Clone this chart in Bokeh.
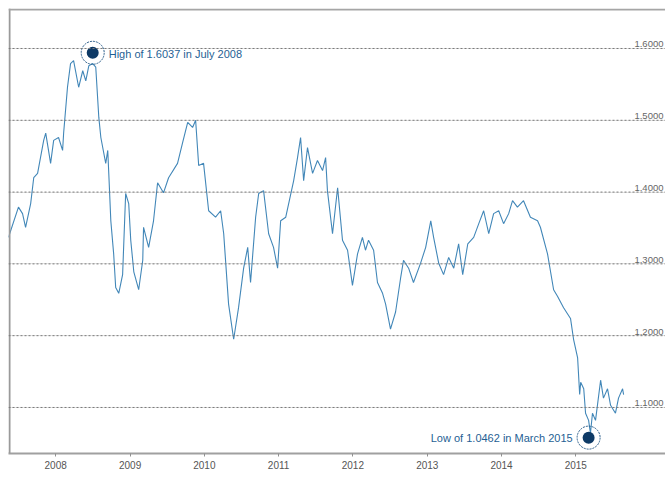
import pandas as pd
from bokeh.plotting import figure
from bokeh.models import FixedTicker, DatetimeTickFormatter, Span
from bokeh.core.properties import value
from bokeh.embed import file_html
from bokeh.resources import INLINE

# ---------------- data ----------------
dates = [
    "2007-05-14", "2007-07-02", "2007-07-22", "2007-08-06", "2007-08-31", "2007-09-15",
    "2007-10-04", "2007-11-03", "2007-11-13", "2007-12-07", "2007-12-22", "2008-01-15",
    "2008-02-04", "2008-02-09", "2008-02-28", "2008-03-14", "2008-03-29", "2008-04-23",
    "2008-05-13", "2008-05-28", "2008-06-12", "2008-07-01", "2008-07-16", "2008-07-31",
    "2008-08-10", "2008-09-03", "2008-09-13", "2008-09-18", "2008-09-28", "2008-10-12",
    "2008-10-22", "2008-11-06", "2008-11-25", "2008-12-10", "2008-12-25", "2009-01-04",
    "2009-01-19", "2009-02-12", "2009-03-04", "2009-03-08", "2009-04-02", "2009-04-26",
    "2009-05-16", "2009-06-14", "2009-07-09", "2009-08-22", "2009-09-16", "2009-10-11",
    "2009-11-04", "2009-11-19", "2009-12-04", "2009-12-28", "2010-01-22", "2010-02-25",
    "2010-03-22", "2010-04-06", "2010-04-30", "2010-05-25", "2010-06-18", "2010-07-13",
    "2010-08-02", "2010-08-16", "2010-09-10", "2010-09-25", "2010-10-19", "2010-11-13",
    "2010-12-07", "2010-12-27", "2011-01-11", "2011-02-05", "2011-03-16", "2011-04-04",
    "2011-04-19", "2011-05-04", "2011-05-23", "2011-06-17", "2011-07-11", "2011-08-05",
    "2011-08-20", "2011-08-29", "2011-09-23", "2011-10-18", "2011-11-11", "2011-12-06",
    "2011-12-30", "2012-01-24", "2012-02-17", "2012-03-03", "2012-03-18", "2012-04-12",
    "2012-05-01", "2012-05-26", "2012-06-10", "2012-07-04", "2012-07-29", "2012-08-22",
    "2012-09-06", "2012-10-01", "2012-10-25", "2012-11-29", "2012-12-24", "2013-01-18",
    "2013-02-01", "2013-02-26", "2013-03-22", "2013-04-16", "2013-05-11", "2013-06-04",
    "2013-06-24", "2013-07-19", "2013-08-17", "2013-09-11", "2013-10-05", "2013-10-30",
    "2013-11-23", "2013-12-18", "2014-01-11", "2014-02-05", "2014-02-24", "2014-03-20",
    "2014-04-19", "2014-05-23", "2014-06-27", "2014-07-11", "2014-08-15", "2014-09-14",
    "2014-10-03", "2014-11-02", "2014-12-06", "2014-12-21", "2015-01-10", "2015-01-20",
    "2015-01-25", "2015-02-09", "2015-02-18", "2015-03-05", "2015-03-14", "2015-03-24",
    "2015-04-08", "2015-05-03", "2015-05-17", "2015-06-06", "2015-06-21", "2015-07-15",
    "2015-07-30", "2015-08-19", "2015-08-24",
]
rates = [
    1.337, 1.379, 1.370, 1.351, 1.384, 1.420,
    1.426, 1.472, 1.482, 1.440, 1.472, 1.476,
    1.458, 1.482, 1.546, 1.579, 1.583, 1.546,
    1.569, 1.555, 1.576, 1.579, 1.574, 1.504,
    1.476, 1.440, 1.458, 1.426, 1.360, 1.314,
    1.267, 1.259, 1.285, 1.398, 1.384, 1.333,
    1.289, 1.264, 1.305, 1.351, 1.323, 1.360,
    1.413, 1.399, 1.420, 1.440, 1.469, 1.497,
    1.490, 1.500, 1.437, 1.440, 1.374, 1.365,
    1.374, 1.342, 1.244, 1.195, 1.239, 1.294,
    1.323, 1.274, 1.365, 1.398, 1.402, 1.342,
    1.323, 1.294, 1.360, 1.365, 1.416, 1.448,
    1.476, 1.416, 1.462, 1.426, 1.444, 1.430,
    1.448, 1.402, 1.342, 1.406, 1.333, 1.319,
    1.270, 1.314, 1.337, 1.319, 1.333, 1.319,
    1.274, 1.259, 1.244, 1.209, 1.233, 1.279,
    1.305, 1.294, 1.274, 1.301, 1.323, 1.360,
    1.337, 1.301, 1.285, 1.309, 1.294, 1.328,
    1.285, 1.328, 1.337, 1.356, 1.374, 1.342,
    1.370, 1.374, 1.356, 1.370, 1.388, 1.379,
    1.388, 1.365, 1.360, 1.351, 1.314, 1.264,
    1.255, 1.239, 1.224, 1.195, 1.169, 1.118,
    1.135, 1.126, 1.092, 1.082, 1.064, 1.092,
    1.082, 1.138, 1.113, 1.126, 1.103, 1.092,
    1.113, 1.126, 1.118,
]
y_ticks = [1.1, 1.2, 1.3, 1.4, 1.5, 1.6]
y_tick_labels = ["1.1000", "1.2000", "1.3000", "1.4000", "1.5000", "1.6000"]
x_tick_years = [2008, 2009, 2010, 2011, 2012, 2013, 2014, 2015]

high_date = "2008-07-01"
high_marker = 1.594
high_label = "High of 1.6037 in July 2008"
low_date = "2015-03-05"
low_marker = 1.058
low_label = "Low of 1.0462 in March 2015"

# ---------------- figure ----------------
x_start = pd.Timestamp("2007-05-14")
x_end = pd.Timestamp("2016-03-17")
y_top = 1.6557
y_bottom = 1.0359

p = figure(width=665, height=479, x_axis_type="datetime", y_axis_location=None,
           x_range=(x_start, x_end), y_range=(y_bottom, y_top),
           output_backend="svg", toolbar_location=None,
           min_border_left=8, min_border_right=0, min_border_top=8, min_border_bottom=26)
p.outline_line_color = None
p.background_fill_color = "white"
p.border_fill_color = "white"
p.xgrid.visible = False

# frame borders (left and top), one pixel inside the frame
left_border = pd.Timestamp("2007-05-19").value / 10**6
top_border = y_top - 0.0014
p.add_layout(Span(location=left_border, dimension="height", line_color="#9a9a9a", line_width=2))
p.add_layout(Span(location=top_border, dimension="width", line_color="#a5a5a5", line_width=2))

# dotted horizontal gridlines
for v in y_ticks:
    p.add_layout(Span(location=v, dimension="width", line_color="#7a7a7a",
                      line_dash="2 2", line_width=1))

# y labels sitting on top of gridlines at right
p.text(x=[x_end] * len(y_ticks), y=y_ticks, text=y_tick_labels,
       text_align="right", text_baseline="bottom", x_offset=-2, y_offset=-1,
       text_font=value("Liberation Sans"), text_font_size="9.5px", text_color="#666666")

# x axis
tick_ms = [pd.Timestamp(f"{yr}-01-01").value // 10**6 for yr in x_tick_years]
p.xaxis.ticker = FixedTicker(ticks=tick_ms)
fmt = "%Y"
p.xaxis.formatter = DatetimeTickFormatter(years=fmt, months=fmt, days=fmt, hours=fmt,
                                          minutes=fmt, seconds=fmt, milliseconds=fmt,
                                          microseconds=fmt, minsec=fmt, hourmin=fmt)
p.xaxis.axis_line_color = "#a0a0a0"
p.xaxis.axis_line_width = 2
p.xaxis.major_tick_line_color = "#909090"
p.xaxis.major_tick_in = 0
p.xaxis.major_tick_out = 3
p.xaxis.minor_tick_line_color = None
p.xaxis.major_label_text_font = "Liberation Sans"
p.xaxis.major_label_text_font_size = "10px"
p.xaxis.major_label_text_color = "#555555"
p.xaxis.major_label_standoff = 4

# series
p.line(x=pd.to_datetime(dates), y=rates, line_color="#4287b8", line_width=1.1)

# markers
mx = pd.to_datetime([high_date, low_date])
my = [high_marker, low_marker]
p.scatter(x=mx, y=my, size=23, fill_color="white", fill_alpha=0.0,
          line_color="#2a5d8a", line_width=1, line_dash="2 1")
p.scatter(x=mx, y=my, size=12, fill_color="#0e3a66", line_color=None)

p.text(x=pd.to_datetime([high_date]), y=[high_marker], text=[high_label],
       text_align="left", text_baseline="middle", x_offset=16, y_offset=1,
       text_font=value("Liberation Sans"), text_font_size="11px", text_color="#1f5f94")
p.text(x=pd.to_datetime([low_date]), y=[low_marker], text=[low_label],
       text_align="right", text_baseline="middle", x_offset=-16, y_offset=0,
       text_font=value("Liberation Sans"), text_font_size="11px", text_color="#1f5f94")

open("out.html", "w").write(file_html(p, INLINE))
